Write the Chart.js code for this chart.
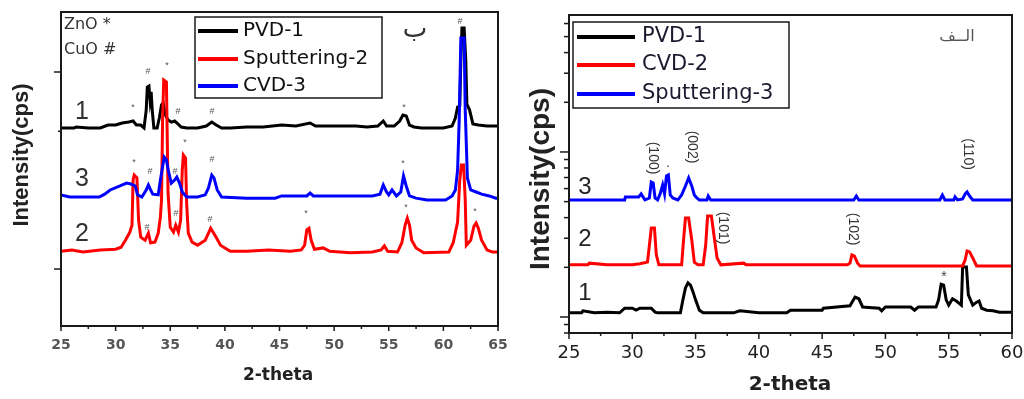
<!DOCTYPE html>
<html>
<head>
<meta charset="utf-8">
<script src="https://cdn.jsdelivr.net/npm/chart.js@4.4.1/dist/chart.umd.min.js"></script>
<style>
  html, body { margin: 0; padding: 0; background: #fff; overflow: hidden; }
  #wrap { position: relative; width: 1024px; height: 399px; }
  canvas { position: absolute; top: 0; }
  #left { left: 0; }
  #right { left: 512px; }
</style>
</head>
<body>
<div id="wrap">
  <canvas id="left" width="512" height="399"></canvas>
  <canvas id="right" width="512" height="399"></canvas>
</div>
<script>
// ---------- Panel ب : Cu-doped ZnO films (2-theta in degrees, intensity in cps, log axis) ----------
const leftPvdTheta = [25.0,26.2,26.4,27.5,28.6,29.3,30.0,30.6,31.2,31.6,31.9,32.3,32.6,32.8,32.9,33.05,33.15,33.25,33.35,33.5,33.8,34.0,34.2,34.35,34.55,34.8,35.1,35.4,35.7,36.0,36.5,37.5,38.3,38.8,39.2,39.7,40.5,42.0,43.5,45.2,46.5,47.8,48.3,50.0,52.0,53.0,54.0,54.5,54.8,55.5,56.0,56.3,56.6,56.9,57.3,58.0,60.0,60.8,61.1,61.3,61.5,61.6,61.7,61.9,62.05,62.15,62.4,62.7,63.2,64.0,65.0];
const leftPvdCps   = [520,520,526,520,520,538,538,551,557,564,538,538,520,641,839,849,721,792,641,520,520,584,680,696,605,571,557,564,545,526,520,520,532,557,538,520,520,526,526,538,532,551,532,532,532,526,532,564,532,532,564,605,598,538,526,520,520,532,584,664,672,1151,1673,1673,1151,688,641,545,538,532,532];

const leftSputTheta = [25.0,26.0,27.0,28.6,30.0,30.5,30.9,31.3,31.5,31.6,31.7,31.95,32.1,32.3,32.7,33.0,33.2,33.6,33.9,34.1,34.2,34.3,34.4,34.65,34.8,35.0,35.3,35.5,35.75,35.95,36.1,36.2,36.4,36.5,36.65,37.0,37.5,38.2,38.7,39.2,39.6,40.0,40.5,42.0,44.0,46.0,47.0,47.3,47.5,47.7,47.9,48.2,49.0,49.6,51.5,53.5,54.3,54.6,54.9,55.8,56.2,56.5,56.7,56.9,57.1,57.5,58.2,60.5,60.9,61.3,61.5,61.65,61.85,62.0,62.1,62.5,62.8,63.0,63.2,63.5,64.0,64.5,65.0];
const leftSputCps   = [123,125,122,125,126,129,140,154,167,283,300,290,177,145,140,152,136,137,152,184,224,571,911,890,243,163,154,167,154,177,318,379,366,216,152,137,132,140,161,145,132,128,123,123,125,123,125,132,158,161,140,126,128,123,121,122,125,131,123,122,136,167,181,167,140,128,121,122,136,173,283,337,337,224,132,140,165,171,161,140,125,122,122];

const leftCvdTheta = [25.0,25.8,28.5,29.0,29.5,30.4,31.0,31.4,31.8,32.0,32.4,32.8,33.0,33.2,33.4,33.9,34.1,34.25,34.45,34.65,34.85,35.1,35.4,35.6,35.85,36.1,36.5,37.5,38.2,38.5,38.8,39.0,39.3,39.7,42.0,44.6,45.2,47.5,47.8,48.1,51.0,53.5,54.2,54.5,54.8,55.0,55.3,55.7,56.1,56.35,56.6,56.9,57.5,58.5,60.2,60.8,61.1,61.3,61.45,61.6,61.9,62.0,62.2,62.5,63.0,63.5,64.2,64.8,65.0];
const leftCvdCps   = [238,232,232,240,252,264,273,270,264,238,232,252,267,252,240,238,283,318,370,358,311,273,283,293,273,246,232,232,238,258,300,290,252,232,229,229,235,235,243,235,235,235,240,267,246,238,252,235,246,297,264,235,229,224,224,235,252,318,571,1488,1488,641,290,252,246,240,235,229,229];

const leftYTicks = [100, 500, 1000];

// phase markers: [symbol, 2-theta, cps]
const leftPhaseMarks = [
  ['*',31.59,657],['#',32.96,1000],['*',34.70,1073],['#',35.71,627],['#',38.82,627],['*',56.40,664],['#',61.52,1794],
  ['*',31.68,349],['#',33.15,311],['#',35.43,311],['*',36.35,441],['#',38.82,358],['*',56.30,345],
  ['#',32.87,163],['#',35.53,192],['#',38.64,179],['*',47.43,192],['*',56.58,206],['*',62.89,197]
];
// trace numbers: [text, 2-theta, cps]
const leftTraceNumbers = [['1',26.92,627],['3',26.92,286],['2',26.92,151]];

// ---------- Panel الف : ZnO films ----------
const rightPvdTheta = [25.0,26.0,26.1,27.0,28.0,29.0,29.4,30.0,30.3,30.6,31.5,31.8,32.0,33.8,34.0,34.2,34.4,34.6,34.8,35.0,35.3,35.6,38.0,38.5,40.0,42.2,42.5,45.0,45.1,47.2,47.6,47.9,48.2,49.5,49.7,50.0,52.0,52.3,52.6,54.0,54.2,54.4,54.6,54.8,55.0,55.3,55.6,56.0,56.1,56.4,56.55,56.9,57.2,57.4,57.6,58.0,58.5,59.0,60.0];
const rightPvdCps   = [106,106,109,106,107,106,113,113,110,113,113,107,106,106,127,150,161,156,142,127,110,106,106,109,106,106,110,110,113,117,132,129,115,113,109,115,115,110,115,115,127,158,156,127,118,129,125,118,201,201,136,118,123,125,113,110,109,107,107];

const rightCvdTheta = [25.0,26.5,26.6,28.0,30.0,30.6,31.2,31.4,31.5,31.75,31.9,32.1,33.0,33.9,34.05,34.2,34.45,34.7,34.9,35.2,35.6,35.8,35.95,36.25,36.45,36.7,37.0,38.8,39.0,47.0,47.2,47.35,47.55,47.8,48.0,56.1,56.3,56.45,56.65,56.9,57.2,60.0];
const rightCvdCps   = [207,207,212,207,207,210,215,293,346,346,238,207,207,207,293,398,398,293,215,207,207,273,409,409,314,228,207,212,207,207,212,238,234,212,204,204,222,251,248,228,204,204];

const rightSputTheta = [25.0,29.4,29.45,30.5,30.7,31.0,31.35,31.5,31.65,31.8,32.0,32.2,32.4,32.55,32.7,32.85,33.0,33.2,33.6,33.9,34.2,34.45,34.7,34.9,35.1,35.3,35.9,36.0,36.2,47.5,47.7,47.9,54.3,54.5,54.7,55.4,55.5,55.7,56.1,56.3,56.45,56.65,56.9,60.0];
const rightSputCps   = [512,512,534,534,557,512,526,658,649,526,512,557,631,557,715,726,549,526,512,549,622,696,622,549,526,512,512,541,512,512,541,512,512,549,512,512,534,512,519,557,572,541,512,512];

const rightYTicks = [80,90,100,200,300,400,500,600,700,800,900,1000,2000,3000,4000,5000,6000];

// reflection indices: [text, 2-theta, cps]
const rightReflections = [['(100)',31.64,919],['(002)',34.72,1072],['(101)',37.16,346],['(102)',47.43,341],['(110)',56.52,972]];
const rightPhaseMarks = [['.',32.82,858],['*',54.62,175]];
const rightTraceNumbers = [['3',26.26,614],['2',26.26,297],['1',26.26,140]];

// ---------- drawing helpers ----------
function drawText(ctx, s, x, y, st) {
  ctx.save();
  ctx.translate(x, y);
  if (st.rot) ctx.rotate(st.rot);
  if (st.sx) ctx.scale(st.sx, 1);
  ctx.font = st.font;
  ctx.fillStyle = st.color || '#222';
  ctx.textAlign = st.align || 'center';
  ctx.textBaseline = st.base || 'middle';
  ctx.fillText(s, 0, 0);
  ctx.restore();
}

function series(label, xs, ys, color, order) {
  return {
    label,
    data: xs.map((x, i) => ({ x, y: ys[i] })),
    borderColor: color,
    backgroundColor: color,
    borderWidth: 3,
    pointRadius: 0,
    tension: 0,
    fill: false,
    order
  };
}

// frame, tick marks, annotations and the boxed legend
const panelDecor = {
  id: 'panelDecor',
  afterDatasetsDraw(chart, args, o) {
    const { ctx, chartArea: a } = chart;
    const xs = chart.scales.x, ys = chart.scales.y;
    ctx.save();
    ctx.strokeStyle = '#1a1a1a';
    ctx.lineWidth = 2;
    ctx.strokeRect(a.left, a.top, a.right - a.left, a.bottom - a.top);

    ctx.lineWidth = 1.5;
    for (let v = xs.min; v <= xs.max + 1e-9; v += o.xMinor) {
      const px = xs.getPixelForValue(v);
      const major = Math.abs(v / o.xMajor - Math.round(v / o.xMajor)) < 1e-6;
      ctx.beginPath();
      ctx.moveTo(px, a.bottom);
      ctx.lineTo(px, a.bottom + (major ? o.xMajorLen : o.xMinorLen));
      ctx.stroke();
    }
    o.yTicks.forEach(v => {
      const py = ys.getPixelForValue(v);
      if (py < a.top - 0.5 || py > a.bottom + 0.5) return;
      const lg = Math.log10(v);
      const major = Math.abs(lg - Math.round(lg)) < 1e-9;
      ctx.beginPath();
      ctx.moveTo(a.left - (major ? o.yMajorLen : o.yMinorLen), py);
      ctx.lineTo(a.left, py);
      ctx.stroke();
    });

    o.anchored.forEach(g => {
      g.items.forEach(([t, x, y]) => drawText(ctx, t, xs.getPixelForValue(x), ys.getPixelForValue(y), g.style));
    });
    o.free.forEach(f => drawText(ctx, f.text, f.x, f.y, f));

    const L = o.legend;
    ctx.lineWidth = 1.5;
    ctx.strokeStyle = '#1a1a1a';
    ctx.strokeRect(L.x, L.y, L.w, L.h);
    chart.data.datasets.forEach((d, i) => {
      const ry = L.rows[i];
      ctx.strokeStyle = d.borderColor;
      ctx.lineWidth = 4;
      ctx.beginPath();
      ctx.moveTo(L.lineX0, ry);
      ctx.lineTo(L.lineX1, ry);
      ctx.stroke();
      drawText(ctx, d.label, L.textX, ry, { font: L.font, color: L.color, align: 'left' });
    });
    ctx.restore();
  }
};

function makePanel(id, cfg) {
  return new Chart(document.getElementById(id), {
    type: 'line',
    data: { datasets: cfg.datasets },
    options: {
      responsive: false,
      animation: false,
      devicePixelRatio: 1,
      layout: { padding: cfg.padding },
      plugins: { legend: { display: false }, tooltip: { enabled: false }, panelDecor: cfg.decor },
      scales: {
        x: {
          type: 'linear', min: cfg.xMin, max: cfg.xMax,
          afterFit: s => { s.height = cfg.xHeight; s.paddingLeft = 0; s.paddingRight = 0; },
          ticks: { stepSize: 5, autoSkip: false, maxRotation: 0, padding: cfg.tickPad, color: cfg.tickColor, font: cfg.tickFont },
          grid: { display: false, drawTicks: false },
          border: { display: false }
        },
        y: {
          type: 'logarithmic', min: cfg.yMin, max: cfg.yMax,
          afterFit: s => { s.width = cfg.yWidth; s.paddingTop = 0; s.paddingBottom = 0; },
          ticks: { display: false },
          grid: { display: false, drawTicks: false },
          border: { display: false }
        }
      }
    },
    plugins: [panelDecor]
  });
}

const smallMark = { font: '9px "Liberation Sans", Arial, sans-serif', color: '#555' };

makePanel('left', {
  datasets: [
    series('PVD-1', leftPvdTheta, leftPvdCps, '#000000', 2),
    series('Sputtering-2', leftSputTheta, leftSputCps, '#ff0000', 1),
    series('CVD-3', leftCvdTheta, leftCvdCps, '#0000ff', 0)
  ],
  padding: { top: 12, right: 14, left: 0, bottom: 0 },
  xMin: 25, xMax: 65, xHeight: 73, yMin: 51.4, yMax: 2016, yWidth: 61,
  tickPad: 11, tickColor: '#555', tickFont: { family: 'DejaVu Sans', size: 14, weight: 'bold' },
  decor: {
    xMinor: 2.5, xMajor: 5, xMajorLen: 5, xMinorLen: 3,
    yTicks: leftYTicks, yMajorLen: 7, yMinorLen: 3,
    anchored: [
      { items: leftPhaseMarks, style: smallMark },
      { items: leftTraceNumbers, style: { font: '25px "Liberation Sans", Arial, sans-serif', color: '#333' } }
    ],
    free: [
      { text: 'ZnO *', x: 64, y: 25, font: '16px "DejaVu Sans"', color: '#333', align: 'left' },
      { text: 'CuO #', x: 64, y: 50, font: '16px "DejaVu Sans"', color: '#333', align: 'left' },
      { text: 'ب', x: 415, y: 30, font: '26px "DejaVu Sans"', color: '#333' },
      { text: 'Intensity(cps)', x: 22, y: 155, rot: -Math.PI / 2, font: 'bold 22px "Liberation Sans", Arial, sans-serif', color: '#222' },
      { text: '2-theta', x: 278, y: 376, font: 'bold 17px "DejaVu Sans"', color: '#222' }
    ],
    legend: { x: 195, y: 17, w: 187, h: 81, rows: [31, 59, 86], lineX0: 198, lineX1: 238, textX: 243, font: '20px "DejaVu Sans"', color: '#111' }
  }
});

makePanel('right', {
  datasets: [
    series('PVD-1', rightPvdTheta, rightPvdCps, '#000000', 2),
    series('CVD-2', rightCvdTheta, rightCvdCps, '#ff0000', 1),
    series('Sputtering-3', rightSputTheta, rightSputCps, '#0000ff', 0)
  ],
  padding: { top: 15, right: 12, left: 0, bottom: 0 },
  xMin: 25, xMax: 60, xHeight: 66, yMin: 80, yMax: 6760, yWidth: 57,
  tickPad: 10, tickColor: '#222', tickFont: { family: 'DejaVu Sans', size: 18 },
  decor: {
    xMinor: 2.5, xMajor: 5, xMajorLen: 6, xMinorLen: 3,
    yTicks: rightYTicks, yMajorLen: 9, yMinorLen: 5,
    anchored: [
      { items: rightReflections, style: { font: '14px "Liberation Sans", Arial, sans-serif', color: '#333', rot: Math.PI / 2 } },
      { items: rightPhaseMarks, style: { font: '14px "Liberation Sans", Arial, sans-serif', color: '#444' } },
      { items: rightTraceNumbers, style: { font: '24px "Liberation Sans", Arial, sans-serif', color: '#222' } }
    ],
    free: [
      { text: 'الــف', x: 445, y: 37, font: '16px "DejaVu Sans"', color: '#555' },
      { text: 'Intensity(cps)', x: 29, y: 179, rot: -Math.PI / 2, font: 'bold 28px "Liberation Sans", Arial, sans-serif', color: '#222' },
      { text: '2-theta', x: 278, y: 385, font: 'bold 20px "DejaVu Sans"', color: '#222' }
    ],
    legend: { x: 61, y: 22, w: 216, h: 86, rows: [37, 65, 94], lineX0: 65, lineX1: 123, textX: 130, font: '21px "DejaVu Sans"', color: '#1a1a2e' }
  }
});
</script>
</body>
</html>
